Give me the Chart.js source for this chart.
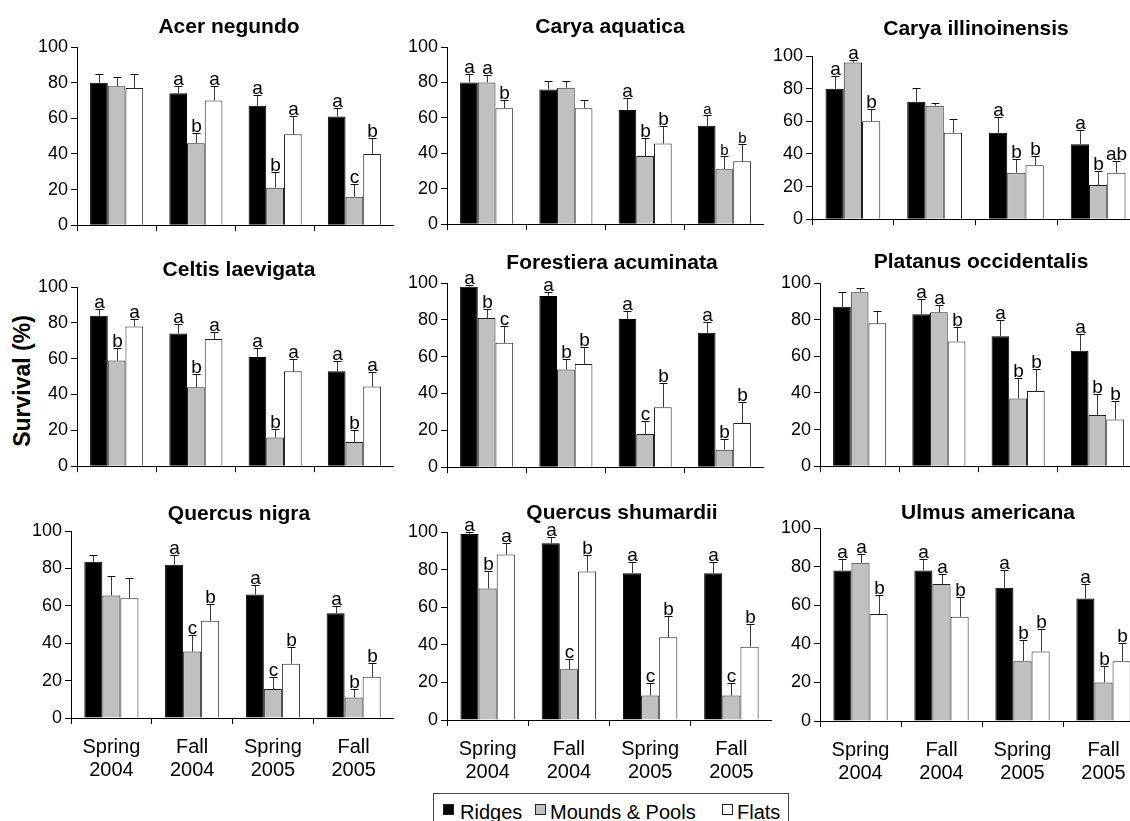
<!DOCTYPE html>
<html>
<head>
<meta charset="utf-8">
<title>Seedling survival by microsite</title>
<script src="https://cdn.jsdelivr.net/npm/chart.js@4.4.0/dist/chart.umd.min.js"></script>
<style>
  html, body { margin: 0; padding: 0; background: #fff; overflow: hidden; width: 1130px; height: 821px; }
  body { position: relative; font-family: "Liberation Sans", Arial, sans-serif; color: #000; }
  canvas { position: absolute; }
  .title { position: absolute; font-weight: bold; font-size: 21px; line-height: 21px; white-space: nowrap; transform: translateX(-50%); }
  #ytitle { position: absolute; left: 22px; top: 381px; font-weight: bold; font-size: 23px; line-height: 23px; white-space: nowrap; transform: translate(-50%, -50%) rotate(-90deg); }
  #legend { position: absolute; left: 433px; top: 793px; width: 356px; height: 40px; border: 1px solid #444; box-sizing: border-box; }
  .lg-box { position: absolute; top: 10px; width: 11px; height: 11px; border: 1px solid #222; box-sizing: border-box; }
  .lg-text { position: absolute; top: 8px; font-size: 20px; line-height: 20px; white-space: nowrap; }
</style>
</head>
<body>
<div id="ytitle">Survival (%)</div>
<div id="legend"></div>
<script>
// Sampling dates (x categories) and microsite treatments (series)
const categories = [['Spring', '2004'], ['Fall', '2004'], ['Spring', '2005'], ['Fall', '2005']];
const seriesNames = ['Ridges', 'Mounds & Pools', 'Flats'];
const species = [
  'Acer negundo', 'Carya aquatica', 'Carya illinoinensis',
  'Celtis laevigata', 'Forestiera acuminata', 'Platanus occidentalis',
  'Quercus nigra', 'Quercus shumardii', 'Ulmus americana'
];

// Mean survival (%) per species, one row per species, one value per date
const ridgesMean = [
  [80, 74, 67, 61],
  [80, 76, 64.5, 55.5],
  [80, 72, 53, 46],
  [84, 74, 61, 53],
  [98, 93, 80.5, 73],
  [87, 83, 71, 63],
  [83.5, 82, 66, 56],
  [99, 94, 78, 78],
  [78, 78, 69, 63.5]
];
const moundsMean = [
  [78, 46, 21, 16],
  [80, 77, 38.5, 31],
  [96, 69.5, 28.5, 21],
  [59, 44, 16, 13.5],
  [81, 53, 18, 9.5],
  [95, 84, 37, 28],
  [65.5, 35.5, 15.5, 11],
  [70, 27, 13, 13],
  [82, 71, 31, 20]
];
const flatsMean = [
  [77, 70, 51, 40],
  [65.5, 65.5, 45.5, 35.5],
  [60, 53, 33, 28.5],
  [78, 71, 53, 44.5],
  [67.5, 56, 32.5, 24],
  [78, 68, 41, 25.5],
  [64, 52, 29, 22],
  [88, 79, 44, 39],
  [55.5, 54, 36, 31]
];

// Standard errors (upper whisker length)
const ridgesErr = [
  [5, 4, 6, 5],
  [5, 5, 7, 6],
  [7.5, 8.5, 9.5, 8.5],
  [4, 5.5, 5, 5.5],
  [1, 2, 4.5, 6],
  [8, 8, 9, 9],
  [3.5, 5, 5, 4],
  [1, 3.5, 6, 6],
  [6, 6, 9, 7.5]
];
const moundsErr = [
  [5, 6, 9, 7],
  [4, 4, 10, 7.5],
  [1.5, 2, 8.5, 8.5],
  [7, 7.5, 5, 6.5],
  [5, 5.5, 7, 6],
  [2.5, 4, 11, 11.5],
  [10.5, 9, 6.5, 4.5],
  [9, 5.5, 6.5, 6.5],
  [4.5, 5, 11, 8.5]
];
const flatsErr = [
  [8, 8, 10, 9],
  [4.5, 4.5, 10, 10],
  [7.5, 8.5, 6, 7],
  [4, 4, 7, 8],
  [9, 9, 13, 11.5],
  [6.5, 8, 12, 10],
  [11, 9, 9, 7.5],
  [6, 9, 11.5, 12],
  [10, 10, 11.5, 9.5]
];

// Mean-separation letters: per species, per date, [Ridges, Mounds & Pools, Flats]
const letters = [
  [['', '', ''], ['a', 'b', 'a'], ['a', 'b', 'a'], ['a', 'c', 'b']],
  [['a', 'a', 'b'], ['', '', ''], ['a', 'b', 'b'], ['a', 'b', 'b']],
  [['a', 'a', 'b'], ['', '', ''], ['a', 'b', 'b'], ['a', 'b', 'ab']],
  [['a', 'b', 'a'], ['a', 'b', 'a'], ['a', 'b', 'a'], ['a', 'b', 'a']],
  [['a', 'b', 'c'], ['a', 'b', 'b'], ['a', 'c', 'b'], ['a', 'b', 'b']],
  [['', '', ''], ['a', 'a', 'b'], ['a', 'b', 'b'], ['a', 'b', 'b']],
  [['', '', ''], ['a', 'c', 'b'], ['a', 'c', 'b'], ['a', 'b', 'b']],
  [['a', 'b', 'a'], ['a', 'c', 'b'], ['a', 'c', 'b'], ['a', 'c', 'b']],
  [['a', 'a', 'b'], ['a', 'a', 'b'], ['a', 'b', 'b'], ['a', 'b', 'b']]
];

// ---- Presentation ----
const FONT = "'Liberation Sans', Arial, sans-serif";
Chart.defaults.font.family = FONT;
Chart.defaults.color = '#000';

const seriesFill = ['#000000', '#c0c0c0', '#ffffff'];
const seriesEdge = ['#000000', '#222222', '#222222'];

// Plot-area rectangle of each panel on the page
const frames = [
  { l: 77, r: 394, t: 47, b: 229 },
  { l: 447, r: 764, t: 47, b: 228 },
  { l: 812, r: 1139, t: 56, b: 223 },
  { l: 77, r: 394, t: 287, b: 470 },
  { l: 447, r: 764, t: 283, b: 471 },
  { l: 820, r: 1137, t: 283, b: 470 },
  { l: 71, r: 394, t: 531, b: 718 },
  { l: 447, r: 772, t: 532, b: 720 },
  { l: 820, r: 1144, t: 528, b: 721 }
];
// Title centre positions (x centre, top of text line)
const titlePos = [
  [229, 15], [610, 15], [976, 17],
  [239, 258], [612, 251], [981, 250],
  [239, 502], [622, 501], [988, 501]
];
// Letters drawn in a smaller size for these [panel, date] pairs
const smallLetters = [[1, 3]];

const errorBars = {
  id: 'errorBars',
  afterDatasetsDraw(chart, args, opts) {
    const ctx = chart.ctx;
    const y = chart.scales.y;
    ctx.save();
    chart.data.datasets.forEach((ds, di) => {
      const meta = chart.getDatasetMeta(di);
      meta.data.forEach((bar, i) => {
        const yTop = Math.round(y.getPixelForValue(ds.data[i] + ds.errors[i]));
        const xc = Math.round(bar.x) + 0.5;
        ctx.strokeStyle = '#3a3a3a';
        ctx.lineWidth = 1;
        ctx.beginPath();
        ctx.moveTo(xc, bar.y);
        ctx.lineTo(xc, yTop);
        ctx.stroke();
        ctx.strokeStyle = '#111';
        ctx.beginPath();
        ctx.moveTo(xc - 4, yTop + 0.5);
        ctx.lineTo(xc + 4, yTop + 0.5);
        ctx.stroke();
        const lt = ds.letters[i];
        if (lt) {
          const small = smallLetters.some(p => p[0] === opts.panel && p[1] === i);
          ctx.font = (small ? 15 : 19) + 'px ' + FONT;
          ctx.fillStyle = '#000';
          ctx.textAlign = 'center';
          ctx.textBaseline = 'alphabetic';
          ctx.fillText(lt, xc, yTop - 1);
        }
      });
    });
    ctx.restore();
  }
};

const means = [ridgesMean, moundsMean, flatsMean];
const errs = [ridgesErr, moundsErr, flatsErr];

species.forEach((name, p) => {
  const f = frames[p];
  const bottomRow = p >= 6;
  const padTop = 34, yW = 72, xH = bottomRow ? 72 : 10;
  const w = yW + (f.r - f.l);
  const h = padTop + (f.b - f.t) + xH;

  const cv = document.createElement('canvas');
  cv.width = w; cv.height = h;
  cv.style.width = w + 'px'; cv.style.height = h + 'px';
  cv.style.left = (f.l - yW) + 'px';
  cv.style.top = (f.t - padTop) + 'px';
  document.body.appendChild(cv);

  const t = document.createElement('div');
  t.className = 'title';
  t.textContent = name;
  t.style.left = titlePos[p][0] + 'px';
  t.style.top = titlePos[p][1] + 'px';
  document.body.appendChild(t);

  new Chart(cv, {
    type: 'bar',
    data: {
      labels: categories,
      datasets: seriesNames.map((s, k) => ({
        label: s,
        data: means[k][p],
        errors: errs[k][p],
        letters: letters[p].map(g => g[k]),
        backgroundColor: seriesFill[k],
        borderColor: seriesEdge[k],
        borderWidth: 1,
        categoryPercentage: 0.67,
        barPercentage: 1.0
      }))
    },
    options: {
      responsive: false,
      animation: false,
      devicePixelRatio: 1,
      layout: { padding: { top: padTop, left: 0, right: 0, bottom: 0 } },
      plugins: { legend: { display: false }, tooltip: { enabled: false }, errorBars: { panel: p } },
      scales: {
        x: {
          offset: true,
          grid: { display: true, drawOnChartArea: false, drawTicks: true, tickLength: 6, color: '#000', offset: true },
          border: { display: true, color: '#000', width: 1 },
          ticks: {
            display: bottomRow,
            autoSkip: false,
            maxRotation: 0,
            padding: 12,
            color: '#000',
            font: { size: 20, lineHeight: 1.15 }
          },
          afterFit(s) { s.height = xH; }
        },
        y: {
          min: 0, max: 100,
          ticks: { stepSize: 20, padding: 3, color: '#000', font: { size: 18 } },
          grid: { display: true, drawOnChartArea: false, drawTicks: true, tickLength: 6, color: '#000' },
          border: { display: true, color: '#000', width: 1 },
          afterFit(s) { s.width = yW; }
        }
      }
    },
    plugins: [errorBars]
  });
});

// Shared legend under the grid of panels
const legend = document.getElementById('legend');
const legendX = [[9, 26], [101, 116], [288, 303]];
seriesNames.forEach((s, k) => {
  const b = document.createElement('div');
  b.className = 'lg-box';
  b.style.left = legendX[k][0] + 'px';
  b.style.background = seriesFill[k];
  legend.appendChild(b);
  const tx = document.createElement('div');
  tx.className = 'lg-text';
  tx.style.left = legendX[k][1] + 'px';
  tx.textContent = s;
  legend.appendChild(tx);
});
</script>
</body>
</html>
